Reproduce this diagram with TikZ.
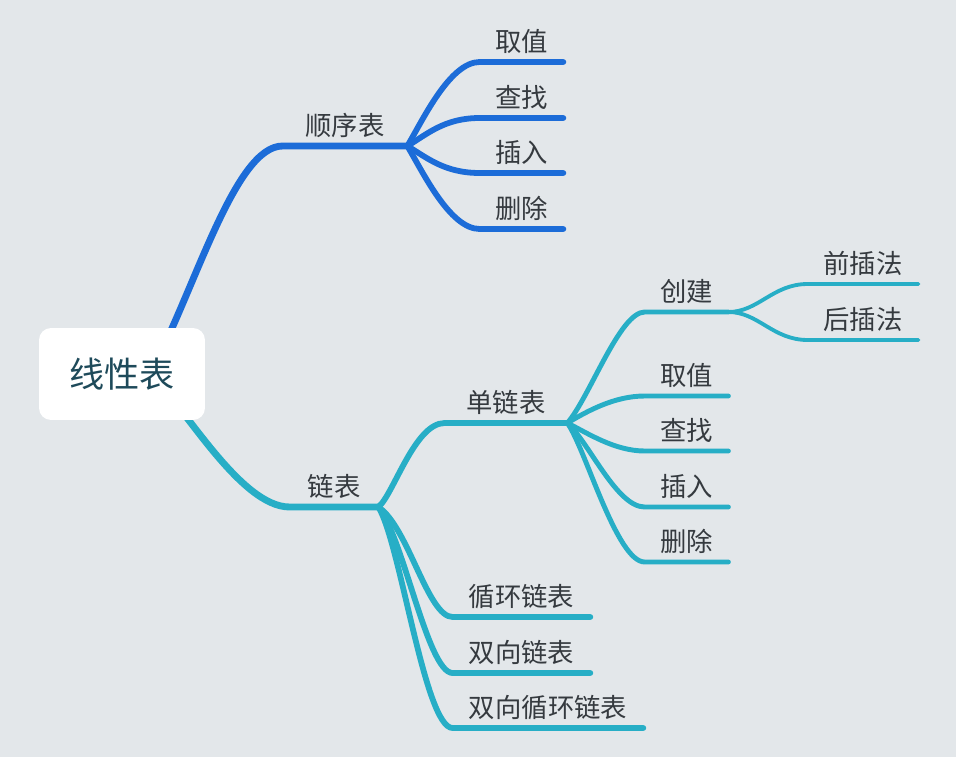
\documentclass[tikz,border=0pt]{standalone}
\usepackage{fontspec}
\setmainfont{Noto Sans CJK SC}
\usepackage{tikz}
\definecolor{bgc}{HTML}{E3E7EA}
\definecolor{seqc}{HTML}{1C6CD8}
\definecolor{lnkc}{HTML}{27AEC6}
\definecolor{lblc}{HTML}{353A3F}
\definecolor{rootc}{HTML}{1E4A5A}

\begin{document}
\begin{tikzpicture}[
  x=0.02cm, y=-0.02cm,
  br/.style={anchor=south,inner xsep=0pt,inner ysep=0.2cm,text depth=0pt,
    font=\fontsize{15}{17}\selectfont,text=lblc},
  wa/.style={br,minimum width=1.66cm},
  rootbox/.style={fill=white,draw=none,rounded corners=0.24cm,minimum width=3.32cm,
    minimum height=1.84cm,font=\fontsize{20}{22}\selectfont,text=rootc},
  lv1/.style={line width=3.9pt,line cap=round},
  lv2/.style={line width=3.3pt,line cap=round},
  lv3/.style={line width=2.8pt,line cap=round},
  lv4/.style={line width=2.2pt,line cap=round},
]
\fill[bgc] (0,0) rectangle (956,757);

\coordinate (hub) at (150,374);

\node[br,minimum width=2.48cm] (sxb) at (345,146) {顺序表};
\node[wa] (sqz) at (521.5,62) {取值};
\node[wa] (scz) at (521.5,118) {查找};
\node[wa] (scr) at (521.5,173) {插入};
\node[wa] (ssc) at (521.5,229) {删除};

\node[br,minimum width=1.76cm] (lb) at (334,507) {链表};
\node[br,minimum width=2.44cm] (dl) at (506,423) {单链表};
\node[br,minimum width=2.74cm] (xh) at (521.5,617) {循环链表};
\node[br,minimum width=2.74cm] (sxl) at (521.5,673) {双向链表};
\node[br,minimum width=3.8cm] (sxh) at (548,728) {双向循环链表};

\node[wa] (cj) at (686.5,312) {创建};
\node[wa] (qz) at (686.5,396) {取值};
\node[wa] (cz) at (686.5,451) {查找};
\node[wa] (cr) at (686.5,507) {插入};
\node[wa] (sc) at (686.5,562) {删除};

\node[br,minimum width=2.2cm] (qc) at (863,284) {前插法};
\node[br,minimum width=2.2cm] (hc) at (863,340) {后插法};

\draw[lv1,seqc] (hub) .. controls +(45,-84) and +(-48,0) .. (sxb.south west) -- (sxb.south east);
\draw[lv2,seqc] (sxb.south east) .. controls +(15,-25) and +(-30,0) .. (sqz.south west) -- (sqz.south east);
\draw[lv2,seqc] (sxb.south east) .. controls +(20,-12) and +(-35,0) .. (scz.south west) -- (scz.south east);
\draw[lv2,seqc] (sxb.south east) .. controls +(20,12) and +(-35,0) .. (scr.south west) -- (scr.south east);
\draw[lv2,seqc] (sxb.south east) .. controls +(15,25) and +(-30,0) .. (ssc.south west) -- (ssc.south east);

\draw[lv1,lnkc] (hub) .. controls +(32,28) and +(-50,0) .. (lb.south west) -- (lb.south east);
\draw[lv2,lnkc] (lb.south east) .. controls +(15,-12) and +(-30,0) .. (dl.south west) -- (dl.south east);
\draw[lv2,lnkc] (lb.south east) .. controls +(30,20) and +(-25,0) .. (xh.south west) -- (xh.south east);
\draw[lv2,lnkc] (lb.south east) .. controls +(25,30) and +(-25,0) .. (sxl.south west) -- (sxl.south east);
\draw[lv2,lnkc] (lb.south east) .. controls +(22,35) and +(-28,0) .. (sxh.south west) -- (sxh.south east);

\draw[lv3,lnkc] (dl.south east) .. controls +(22,-25) and +(-25,0) .. (cj.south west) -- (cj.south east);
\draw[lv3,lnkc] (dl.south east) .. controls +(20,-12) and +(-30,0) .. (qz.south west) -- (qz.south east);
\draw[lv3,lnkc] (dl.south east) .. controls +(20,10) and +(-30,0) .. (cz.south west) -- (cz.south east);
\draw[lv3,lnkc] (dl.south east) .. controls +(22,20) and +(-28,0) .. (cr.south west) -- (cr.south east);
\draw[lv3,lnkc] (dl.south east) .. controls +(18,25) and +(-28,0) .. (sc.south west) -- (sc.south east);

\draw[lv4,lnkc] (cj.south east) .. controls +(30,0) and +(-35,0) .. (qc.south west) -- (qc.south east);
\draw[lv4,lnkc] (cj.south east) .. controls +(30,0) and +(-35,0) .. (hc.south west) -- (hc.south east);

\node[rootbox] (root) at (122,374) {线性表};
\end{tikzpicture}
\end{document}
